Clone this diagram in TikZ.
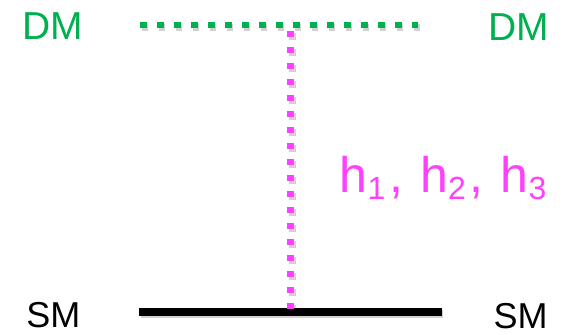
\documentclass[tikz,border=0pt]{standalone}
\usepackage{fontspec}
\setmainfont{Liberation Sans}
\definecolor{dmgreen}{RGB}{0,176,80}
\definecolor{hmag}{RGB}{255,64,255}
\newcommand{\hsub}[1]{\raisebox{-7pt}{\fontsize{32}{32}\selectfont #1}}
\begin{document}
\begin{tikzpicture}[x=1pt,y=1pt,
  lbl/.style={inner sep=0pt,anchor=base},
  shadowline/.style={draw=black,opacity=0.18},
  dmline/.style={draw=dmgreen,line width=6.5pt,dash pattern=on 6.5pt off 10.5pt},
  hline/.style={draw=hmag,line width=6.5pt,dash pattern=on 6.5pt off 9.5pt},
  smline/.style={draw=black,line width=7.4pt}]
\useasboundingbox (0,0) rectangle (569,334);
% coordinates
\coordinate (dmL) at (140,309);
\coordinate (dmR) at (418.3,309);
\coordinate (hTop) at (290.7,303.3);
\coordinate (hBot) at (290.7,24.7);
\coordinate (smL) at (139,22);
\coordinate (smR) at (441.7,22);
% shadows
\draw[shadowline,line width=7pt,dash pattern=on 6.5pt off 10.5pt] ([shift={(1.5,-2.5)}]dmL) -- ([shift={(1.5,-2.5)}]dmR);
\draw[shadowline,line width=7pt,dash pattern=on 6.5pt off 9.5pt] ([shift={(1.5,-2.5)}]hTop) -- ([shift={(1.5,-2.5)}]hBot);
\draw[shadowline,line width=8pt] ([shift={(1.5,-2.5)}]smL) -- ([shift={(1.5,-2.5)}]smR);
% lines
\draw[smline] (smL) -- (smR);
\draw[dmline] (dmL) -- (dmR);
\draw[hline] (hTop) -- (hBot);
% labels
\node[lbl,text=dmgreen,font=\fontsize{39}{39}\selectfont] (dmLeft) at (52.5,294) {DM};
\node[lbl,text=dmgreen,font=\fontsize{39}{39}\selectfont] (dmRight) at (519,293) {DM};
\node[lbl,font=\fontsize{36}{36}\selectfont] (smLeft) at (53.3,7) {SM};
\node[lbl,font=\fontsize{36}{36}\selectfont] (smRight) at (520.5,5.2) {SM};
\node[inner sep=0pt,anchor=base west,text=hmag,font=\fontsize{50}{50}\selectfont] (hs) at (339.5,141)
  {h\hsub{1}\hspace{4pt},\hspace{17pt}h\hsub{2}\hspace{4pt},\hspace{17pt}h\hsub{3}};
\end{tikzpicture}
\end{document}
